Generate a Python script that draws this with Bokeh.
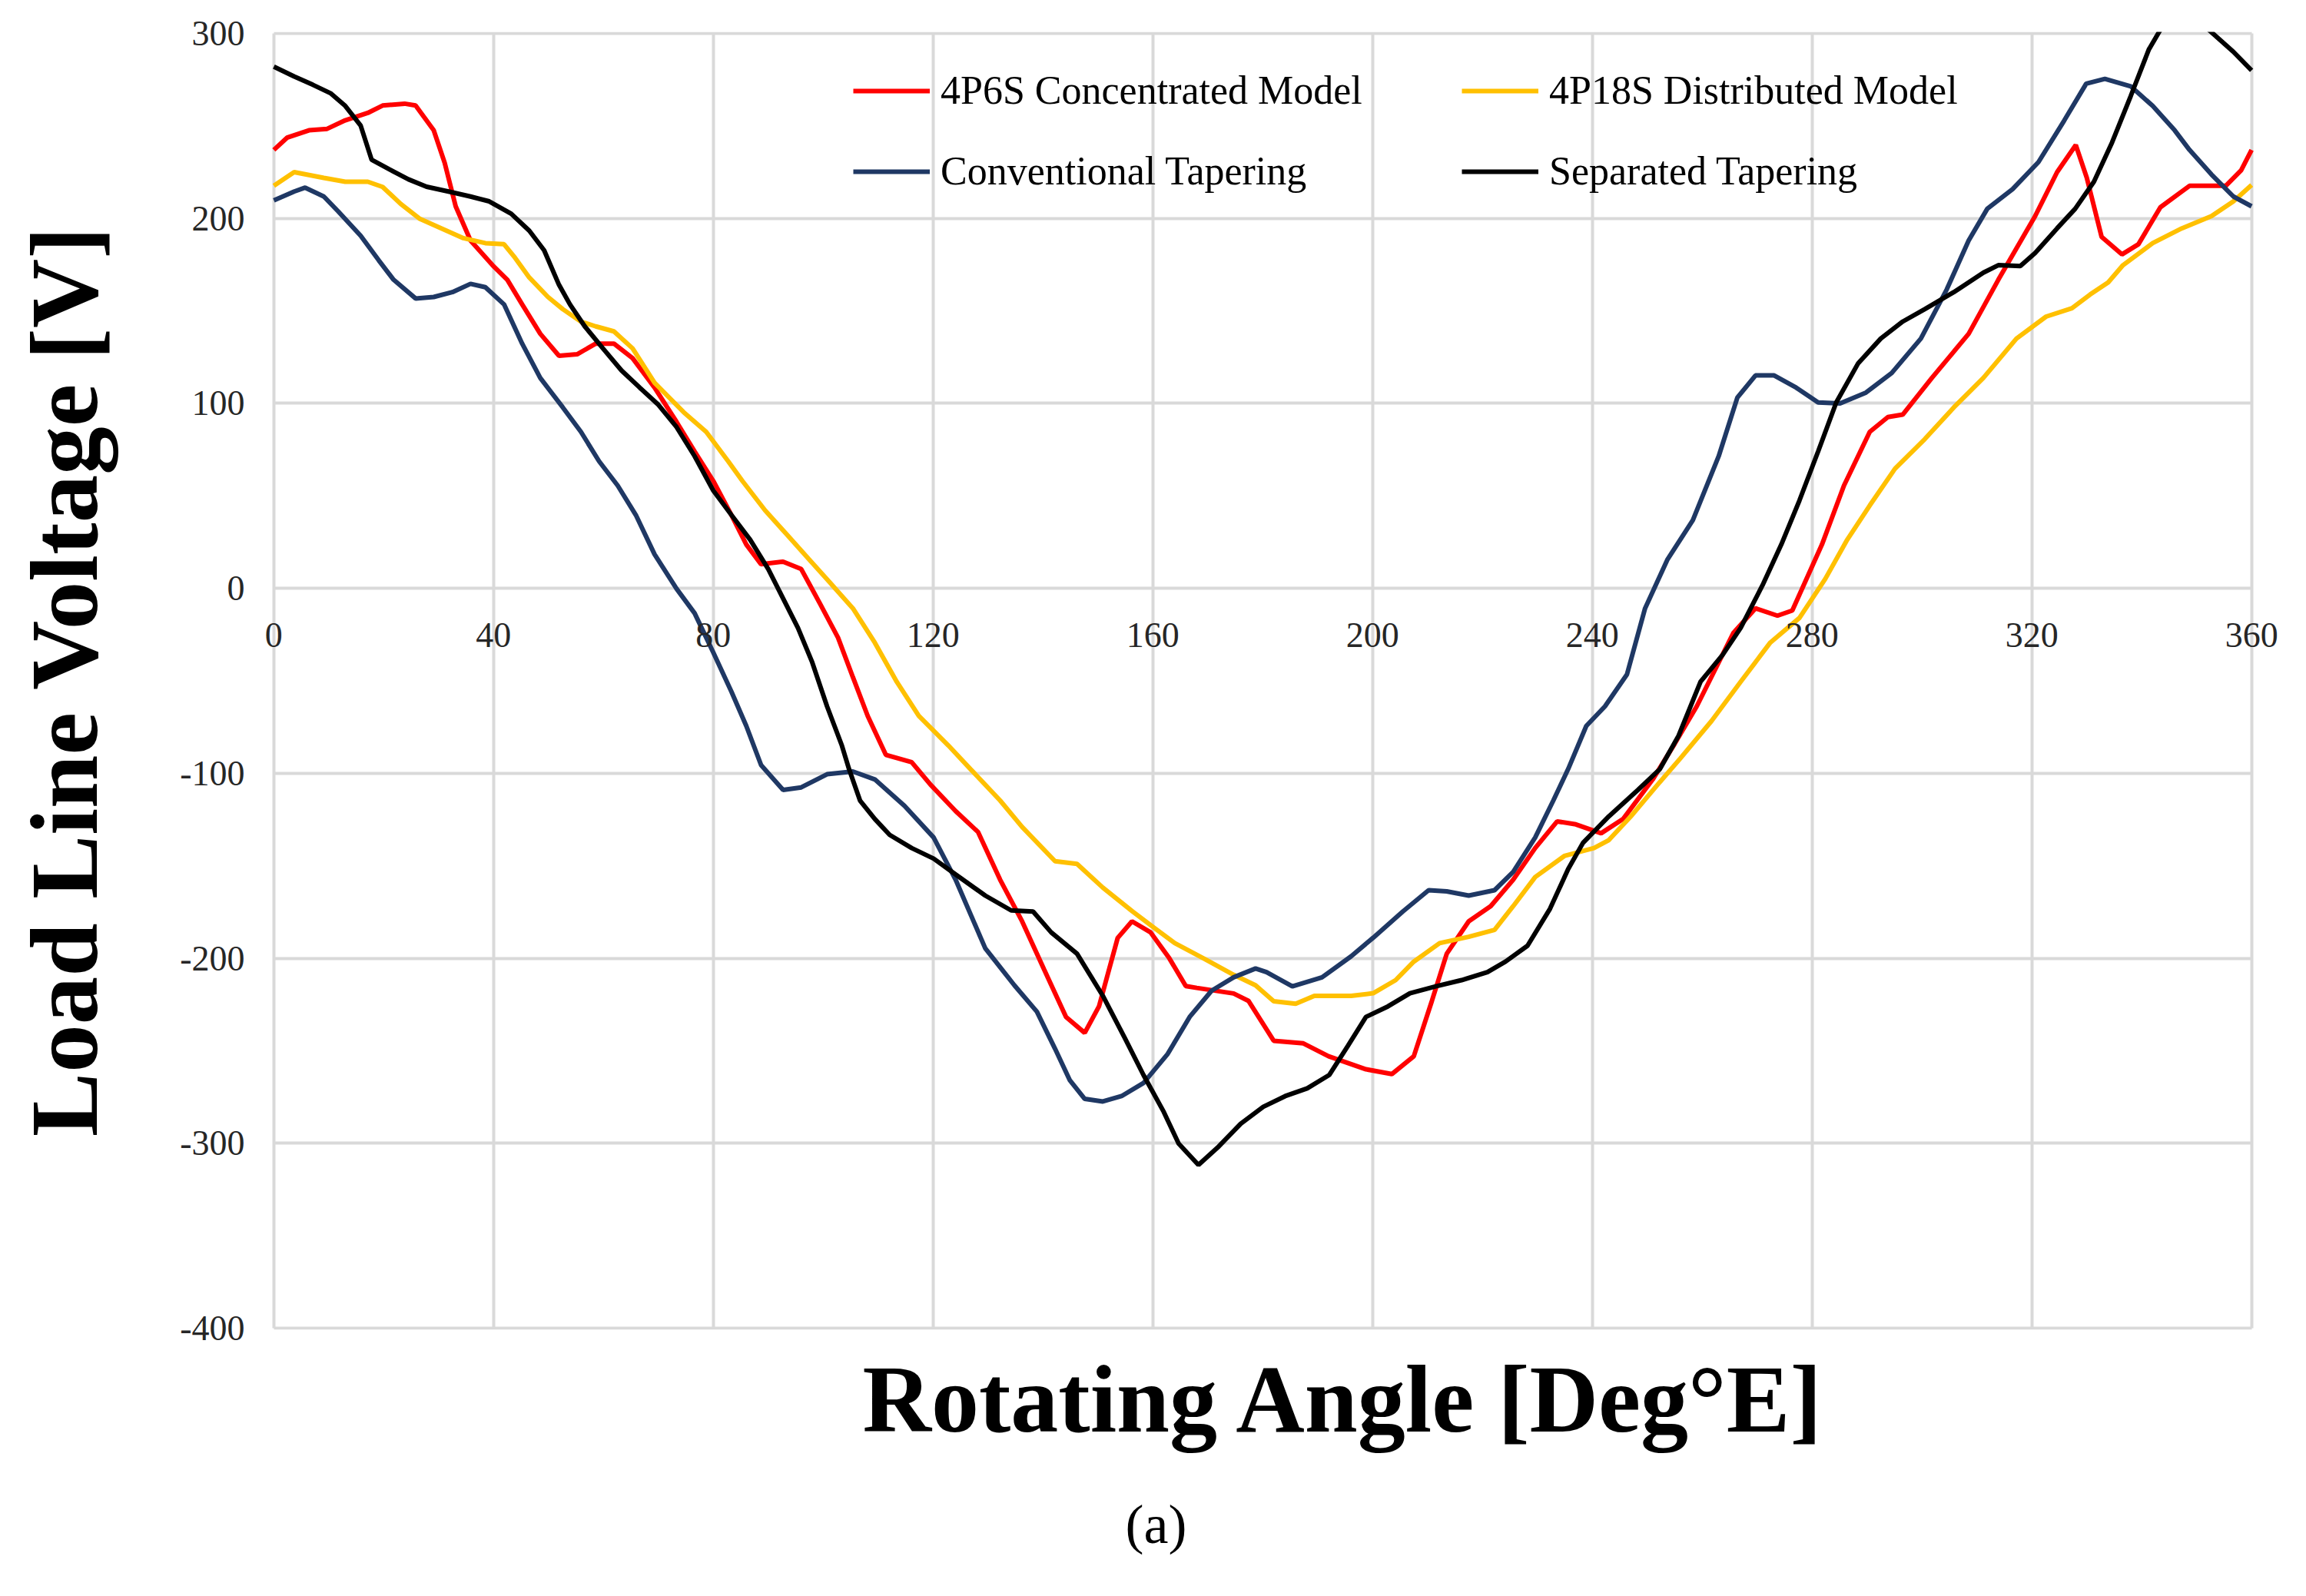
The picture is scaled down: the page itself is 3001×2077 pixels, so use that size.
from bokeh.plotting import figure
from bokeh.models import Range1d, FixedTicker, Legend, LegendItem, Title, Grid, PrintfTickFormatter
from bokeh.embed import file_html
from bokeh.resources import INLINE

# ---- data ----
red_deg = [0, 2.4, 6.4, 9.7, 13, 17.1, 19.8, 23.8, 25.8, 29.1, 31.1, 33.1, 35.8, 39.8, 42.5, 45.2, 48.5, 51.9,
           55.2, 58.6, 61.9, 65.3, 69.3, 73.3, 76.6, 80, 83.3, 86, 88.7, 92.7, 96, 99.4, 102.7, 105.4, 108.1,
           111.4, 116.1, 119.5, 124.1, 128.2, 132.2, 136.2, 140.2, 144.2, 147.6, 150.2, 153.6, 156.2, 159.6,
           163, 166, 168, 174.7, 177.4, 182, 187.4, 192, 198.8, 203.5, 207.5, 210.8, 213.5, 217.5, 221.5,
           225.6, 229.6, 233.6, 237, 241.6, 245.6, 251, 255, 259, 265.7, 269.7, 273.7, 276.4, 281.8, 285.8,
           290.5, 293.8, 296.5, 301.8, 308.5, 313.9, 320.6, 324.6, 328, 330, 332.7, 336.4, 339.4, 343.4,
           348.7, 355.3, 358.1, 360]
red_v = [237, 243.6, 247.6, 248.4, 253, 257, 261, 262, 261, 247.6, 230, 206.5, 188, 174.7, 166.8, 153.5, 137.6,
         125.7, 126.5, 132.3, 132.3, 124.4, 108.5, 90, 74, 58, 39.6, 23.7, 13, 14.4, 10.4, -8.2, -26.7, -48,
         -69, -90, -94, -106, -120.4, -131.8, -157.5, -180, -206, -231.7, -240.3, -226, -189, -180, -186,
         -200, -215, -216, -219, -223, -244.6, -246, -253, -260, -262.6, -253, -223, -197.5, -180, -171.8,
         -157.5, -140.4, -126, -127.6, -132.4, -124.7, -103.3, -84, -63.8, -24, -10.8, -14.8, -12, 23.7,
         55.5, 84.6, 92.6, 93.9, 113.7, 137.6, 166.8, 201.2, 225, 239.6, 222, 190, 180.5, 186, 206, 217.6,
         217.6, 226, 237]

yel_deg = [0, 3.7, 9.1, 13, 17.1, 19.8, 23.1, 26.5, 30.5, 34.5, 38.5, 41.9, 43.9, 46.5, 49.9, 52.6, 55.9,
           58.6, 61.9, 65.3, 69.3, 74.6, 78.7, 82.7, 85.3, 89.4, 93.4, 97.4, 101.4, 105.4, 109.4, 113.4,
           117.4, 122.8, 126.8, 132.2, 136.2, 142.2, 146.2, 150.9, 156.3, 160, 164, 169.4, 174.7, 178.7, 182,
           186, 189.4, 196.1, 200.1, 204.2, 207.5, 212.2, 217.5, 222.2, 225.6, 229.6, 234.9, 240.3, 243, 247,
           252.3, 256, 261.7, 267, 272.4, 277.7, 282.4, 286.4, 290.5, 295.1, 300.5, 305.8, 311.2, 317.2,
           322.6, 327.3, 330.6, 333.9, 336.6, 342, 347.3, 352.7, 356.7, 360]
yel_v = [217.6, 225, 221.9, 219.8, 219.8, 217, 207.8, 199.9, 194.6, 189.3, 186.6, 186, 178.7, 168, 157.5,
         150.9, 144.2, 141.6, 138.9, 129.7, 111.1, 95.2, 84.6, 68.7, 58, 42.2, 29, 15.7, 2.5, -10.8, -29.4,
         -50.6, -69, -85, -97.7, -114.7, -129, -147.5, -149, -161.8, -174.7, -183, -191.8, -200.3, -208.9,
         -214.6, -223.2, -224.6, -220.3, -220.3, -218.9, -211.8, -201.8, -191.8, -188.4, -184.6, -171.8,
         -156.1, -144.7, -140.4, -136.1, -123.3, -104.7, -92, -71.7, -50.5, -29.3, -16, 5.1, 26.3, 44.8,
         64.7, 80.6, 97.8, 113.8, 135, 146.9, 151.4, 158.8, 165.4, 174.7, 186.6, 194.6, 201.2, 209.2, 218]

blue_deg = [0, 3.7, 5.7, 9.1, 11.7, 15.8, 19.1, 21.8, 25.8, 29.1, 32.5, 35.8, 38.5, 41.9, 45.2, 48.5, 52.6,
            55.9, 59.2, 62.6, 65.9, 69.3, 73.3, 76.6, 80, 83.3, 86, 88.7, 92.7, 96, 100.7, 105.4, 109.4,
            114.8, 120.1, 124.1, 129.5, 134.8, 138.9, 142.2, 144.9, 147.6, 150.9, 154.3, 158.3, 162.7,
            166.7, 170.7, 174.7, 178.7, 180.7, 185.4, 190.8, 196.1, 200.1, 205.5, 210.2, 213.5, 217.5,
            222.2, 225.6, 229.6, 232.9, 235.6, 238.9, 242.3, 246.3, 249.6, 253.7, 258.3, 263, 266.4, 269.7,
            273.1, 277.1, 281.1, 285.1, 289.8, 294.5, 299.8, 304.5, 308.5, 311.9, 316.5, 321.2, 325.9,
            329.9, 333.3, 338, 342, 346, 348.7, 352.7, 356.7, 360]
blue_v = [209.7, 214.5, 216.6, 211.8, 203.8, 190.6, 177.3, 166.8, 156.7, 157.5, 160.1, 164.6, 162.8, 153.5,
          132.3, 113.7, 97.8, 84.6, 68.7, 55.5, 39.6, 18.4, -0.2, -13.5, -34.7, -55.9, -74.4, -95.6, -109,
          -107.6, -100.5, -99, -103.3, -117.6, -134.7, -157.5, -194.6, -214.6, -228.9, -248.9, -266, -276,
          -277.4, -274.5, -267.4, -251.7, -231.7, -217.5, -210.3, -205.5, -207.5, -215.2, -210.3, -198.9,
          -188.9, -174.7, -163.2, -163.8, -166.1, -163.2, -153.3, -134.7, -114.7, -97.7, -74.4, -63.8,
          -46.6, -10.8, 15.7, 36.9, 71.4, 103.1, 115.1, 115.1, 108.5, 100.5, 100, 105.8, 116.4, 135, 161.5,
          188, 205.2, 215.8, 230.4, 252.9, 272.8, 275.4, 271.4, 260.8, 247.6, 237, 223.7, 211.8, 206.5]

blk_deg = [0, 3.7, 7.1, 10.4, 13, 15.8, 17.8, 21.1, 24.5, 27.8, 31.8, 35.8, 39.2, 43.2, 46.5, 49.2, 51.9,
           53.9, 56.6, 59.9, 63.3, 66.6, 70, 73.3, 76.6, 80, 83.3, 86.7, 90, 92.7, 95.4, 98, 100.7, 103.4,
           104.7, 106.7, 109.4, 112.1, 116.1, 120.1, 124.1, 129.5, 134.2, 138.2, 141.5, 146.2, 150.9, 154.9,
           158.3, 162, 164.7, 168.3, 172, 176, 180.1, 184.1, 188.1, 192.1, 195.5, 198.8, 202.8, 206.8,
           211.5, 216.2, 220.9, 224.2, 228.2, 232.3, 235.6, 238.3, 243, 248.3, 252.3, 255.7, 259.7, 263.7,
           267, 271.1, 274.4, 277.7, 281.1, 284.4, 288.4, 292.5, 296.5, 300.5, 305.8, 311.2, 313.9, 317.9,
           320.6, 324.6, 327.9, 331.3, 334.6, 338, 341.3, 344, 347.5, 351, 352.7, 356.7, 360]
blk_v = [282, 276.7, 272.2, 267.5, 260.8, 250.2, 231.7, 226.4, 221.1, 217.1, 214.5, 211.8, 209.2, 202.5,
         193.3, 182.7, 164.1, 153.5, 141.6, 129.7, 117.7, 108.5, 99.2, 87.2, 71.4, 52.8, 39.6, 26.3, 10.4,
         -5.5, -21.4, -40, -63.8, -85, -97.7, -114.7, -124.7, -133.3, -140.4, -146.1, -154.7, -166.1,
         -174.1, -174.7, -186, -197.5, -220.3, -243.1, -263.1, -283.1, -300.2, -311.7, -301.7, -289.4,
         -280.3, -274.5, -270.3, -263.1, -247.4, -231.7, -226, -218.9, -215.2, -211.8, -207.5, -201.8,
         -193.2, -173.2, -151.8, -137.6, -123.3, -109, -97.7, -79.7, -50.5, -36, -21.4, 2.4, 23.7, 47.5,
         74, 100.5, 121.7, 135, 144.2, 150.9, 160.1, 170.7, 174.7, 174.2, 181.3, 194.6, 205.2, 219.8, 241,
         266.1, 291.3, 305, 312, 305, 300.6, 290, 280]

series_names = ["4P6S Concentrated Model", "4P18S Distributed Model",
                "Conventional Tapering", "Separated Tapering"]
x_ticks = [0, 40, 80, 120, 160, 200, 240, 280, 320, 360]
y_ticks = [-400, -300, -200, -100, 0, 100, 200, 300]
x_title = "Rotating Angle [Deg°E]"
y_title = "Load Line Voltage [V]"
sub_caption = "(a)"

SERIF = "Liberation Serif"
GRID = "#d9d9d9"

HAS_CB = "cross_bounds" in Grid.properties()
if HAS_CB:
    # a little room either side so the end tick labels are not clipped
    xr = Range1d(-2.5, 365.5)
    yr = Range1d(-400.8, 300.8)
    bl, br, bt, bb = 338, 16, 41, 331
    ystand = 20
else:
    xr = Range1d(0, 360)
    yr = Range1d(-400, 300)
    bl, br, bt, bb = 356, 55, 43, 333
    ystand = 38

p = figure(width=2985, height=2061, output_backend="svg", toolbar_location=None,
           x_range=xr, y_range=yr,
           min_border_left=bl, min_border_right=br, min_border_top=bt, min_border_bottom=bb)
p.background_fill_color = "white"
p.border_fill_color = "white"
if HAS_CB:
    p.outline_line_color = None
else:
    p.outline_line_color = GRID
    p.outline_line_width = 4

p.xgrid.ticker = FixedTicker(ticks=x_ticks)
p.ygrid.ticker = FixedTicker(ticks=y_ticks)
for g in (p.xgrid, p.ygrid):
    g.grid_line_color = GRID
    g.grid_line_width = 4
if HAS_CB:
    p.ygrid.cross_bounds = (0, 360)
    p.xgrid.cross_bounds = (-400, 300)

xa = p.xaxis[0]
xa.ticker = FixedTicker(ticks=x_ticks)
xa.formatter = PrintfTickFormatter(format="%d")
xa.fixed_location = 0
xa.axis_line_color = None
xa.major_tick_line_color = None
xa.minor_tick_line_color = None
xa.major_tick_out = 0
xa.major_label_standoff = 45
xa.major_label_text_font = SERIF
xa.major_label_text_font_size = "46px"
xa.major_label_text_color = "#262626"

ya = p.yaxis[0]
ya.ticker = FixedTicker(ticks=y_ticks)
ya.formatter = PrintfTickFormatter(format="%d")
ya.axis_line_color = None
ya.major_tick_line_color = None
ya.minor_tick_line_color = None
ya.major_tick_out = 0
ya.major_label_standoff = ystand
ya.major_label_text_font = SERIF
ya.major_label_text_font_size = "46px"
ya.major_label_text_color = "#262626"
ya.axis_label = y_title
ya.axis_label_text_font = SERIF
ya.axis_label_text_font_style = "bold"
ya.axis_label_text_font_size = "125px"
ya.axis_label_text_color = "black"
ya.axis_label_standoff = 78

LW = 6
r_red = p.line(red_deg, red_v, line_color="#ff0000", line_width=LW)
r_yel = p.line(yel_deg, yel_v, line_color="#ffc000", line_width=LW)
r_blue = p.line(blue_deg, blue_v, line_color="#1f3864", line_width=LW)
r_blk = p.line(blk_deg, blk_v, line_color="#000000", line_width=LW)


def make_legend(items, loc):
    lg = Legend(items=items, location=loc, orientation="vertical")
    lg.border_line_color = None
    lg.background_fill_alpha = 0
    lg.padding = 0
    lg.margin = 0
    lg.spacing = 46
    lg.glyph_width = 100
    lg.glyph_height = 58
    lg.label_height = 58
    lg.label_standoff = 14
    lg.label_text_font = SERIF
    lg.label_text_font_size = "52px"
    lg.label_text_color = "black"
    lg.label_text_baseline = "middle"
    return lg


# frame-relative legend positions (frame left sits 2.5 deg left of 0)
fx = 348 - 330
leg1 = make_legend([LegendItem(label=series_names[0], renderers=[r_red]),
                    LegendItem(label=series_names[2], renderers=[r_blue])], (754 + fx, 1478))
leg2 = make_legend([LegendItem(label=series_names[1], renderers=[r_yel]),
                    LegendItem(label=series_names[3], renderers=[r_blk])], (1546 + fx, 1478))
p.add_layout(leg1)
p.add_layout(leg2)

t1 = Title(text=x_title, align="left", offset=1122 - bl, standoff=40,
           text_font=SERIF, text_font_style="bold", text_font_size="124px", text_color="black")
t2 = Title(text=sub_caption, align="left", offset=1464 - bl, standoff=64,
           text_font=SERIF, text_font_style="normal", text_font_size="72px", text_color="black")
p.add_layout(t1, "below")
p.add_layout(t2, "below")

open("out.html", "w").write(file_html(p, INLINE))
